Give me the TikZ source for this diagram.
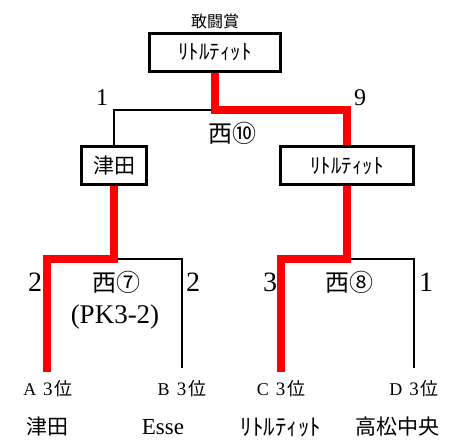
\documentclass[tikz,border=0pt]{standalone}
\usepackage{fontspec}
\setmainfont{Liberation Serif}
\newfontfamily\jpfont{Noto Sans CJK JP}
\newcommand{\fs}[1]{\fontsize{#1}{#1}\selectfont}
\newcommand{\rang}[1]{{\fs{18}#1}\hspace{7pt}{\fs{19}3}\hspace{2pt}{\jpfont\fs{18}位}}

\begin{document}
\begin{tikzpicture}[x=1pt, y=1pt,
    boks/.style = {rectangle, draw, line width=3pt, minimum height=38pt, inner sep=2pt},
    strek/.style = {black, line width=2.6pt},
    vinner/.style = {red, line width=8pt},
    tall/.style = {inner sep=0pt, font=\fs{24}},
    lag/.style = {inner sep=0pt, font=\jpfont\fs{21}}
    ]
  \useasboundingbox (0,0) rectangle (460,441);

  % boxes
  \node[boks, minimum width=131pt, label={[font=\jpfont\fs{16}]above:敢闘賞}] (final) at (215,388.5) {\jpfont\fs{21}ﾘﾄﾙﾃｨｯﾄ};
  \node[boks, minimum width=65pt] (tsuda) at (114,275) {\jpfont\fs{21}津田};
  \node[boks, minimum width=133pt] (little) at (347,275) {\jpfont\fs{21}ﾘﾄﾙﾃｨｯﾄ};

  % bracket points
  \coordinate (top) at (215,331);
  \coordinate (semi1) at (114,182);
  \coordinate (semi2) at (347,182);
  \coordinate (A) at (47,69);
  \coordinate (B) at (182,73);
  \coordinate (C) at (281,69);
  \coordinate (D) at (414,73);

  \draw[strek] (top) -| (tsuda.north);
  \draw[strek] (semi1) -| (B);
  \draw[strek] (semi2) -| (D);
  \draw[vinner] (final.south) -- (top) -| (little.north);
  \draw[vinner] (tsuda.south) -- (semi1) -| (A);
  \draw[vinner] (little.south) -- (semi2) -| (C);

  % scores
  \node[tall] (s1) at (102,343) {1};
  \node[tall] (s9) at (360,343) {9};
  \node[tall, font=\jpfont\fs{24}] (m10) at (232,308) {西⑩};
  \node[tall, font=\fs{28}] (sA) at (35,159) {2};
  \node[tall, font=\fs{28}] (sB) at (193,159) {2};
  \node[tall, font=\fs{28}] (sC) at (270,159) {3};
  \node[tall, font=\fs{28}] (sD) at (426,159) {1};
  \node[tall, font=\jpfont\fs{24}] (m7) at (116,159) {西⑦};
  \node[tall, font=\fs{27}] (pk) at (115,124) {(PK3-2)};
  \node[tall, font=\jpfont\fs{24}] (m8) at (349,159) {西⑧};

  % teams
  \node[inner sep=0pt] (rA) at (48,52) {\rang{A}};
  \node[inner sep=0pt] (rB) at (182,52) {\rang{B}};
  \node[inner sep=0pt] (rC) at (281,52) {\rang{C}};
  \node[inner sep=0pt] (rD) at (414,52) {\rang{D}};
  \node[lag] (tA) at (47,14) {津田};
  \node[lag, font=\fs{23}] (tB) at (163,14) {Esse};
  \node[lag, font=\jpfont\fs{23}] (tC) at (281,14) {ﾘﾄﾙﾃｨｯﾄ};
  \node[lag] (tD) at (397,14) {高松中央};
\end{tikzpicture}
\end{document}
